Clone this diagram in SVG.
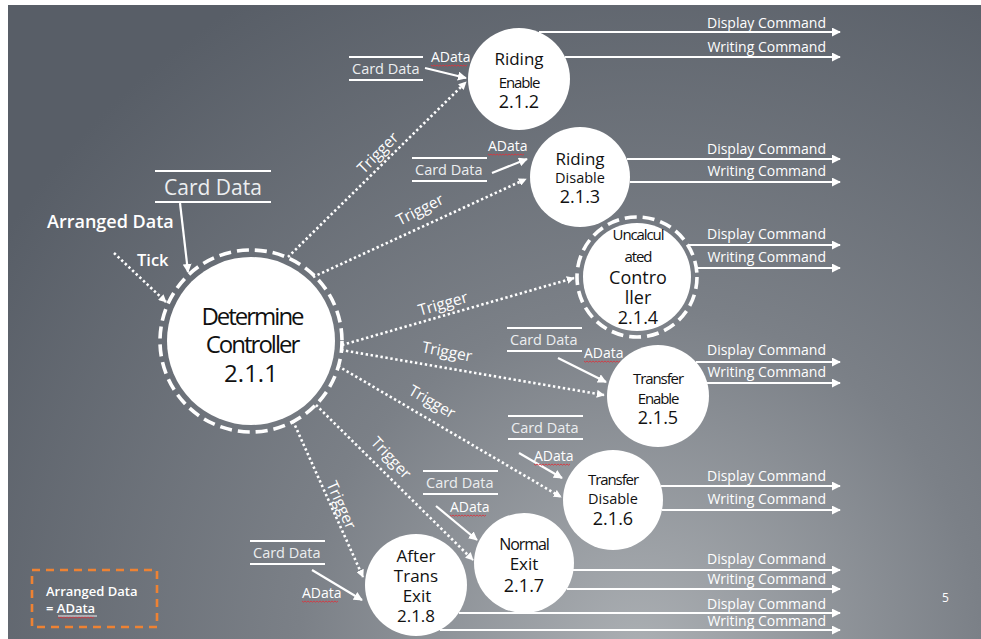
<svg xmlns="http://www.w3.org/2000/svg" xmlns:xlink="http://www.w3.org/1999/xlink" width="981" height="639" viewBox="0 0 981 639">
  <defs>
    <radialGradient id="slideBg" gradientUnits="userSpaceOnUse" cx="640" cy="650" r="760">
      <stop offset="0" stop-color="#abafb3"/>
      <stop offset="0.45" stop-color="#7b8087"/>
      <stop offset="1" stop-color="#585e67"/>
    </radialGradient>
    <marker id="head" viewBox="0 0 10 10" refX="9" refY="5" markerWidth="9" markerHeight="9" markerUnits="userSpaceOnUse" orient="auto">
      <path d="M0,0 L10,5 L0,10 z" fill="#ffffff"/>
    </marker>
    <marker id="headSmall" viewBox="0 0 10 10" refX="9" refY="5" markerWidth="8" markerHeight="8" markerUnits="userSpaceOnUse" orient="auto">
      <path d="M0,0 L10,5 L0,10 z" fill="#ffffff"/>
    </marker>
    <path id="squiggle" d="M0,0 l1.5,1.2 l1.5,-1.2 l1.5,1.2 l1.5,-1.2 l1.5,1.2 l1.5,-1.2 l1.5,1.2 l1.5,-1.2 l1.5,1.2 l1.5,-1.2 l1.5,1.2 l1.5,-1.2 l1.5,1.2 l1.5,-1.2 l1.5,1.2 l1.5,-1.2 l1.5,1.2 l1.5,-1.2 l1.5,1.2 l1.5,-1.2 l1.5,1.2 l1.5,-1.2 l1.5,1.2 l1.5,-1.2" fill="none" stroke="#d9363e" stroke-width="0.9"/>
    <style>
      text { font-family: "Open Sans", "Noto Sans", "DejaVu Sans", sans-serif; }
      .lbl { fill: #ffffff; font-size: 14px; }
      .store { fill: #eceef0; font-size: 14.5px; }
      .trig { fill: #ffffff; font-size: 15.5px; text-anchor: middle; }
      .node { fill: #111111; text-anchor: middle; }
      .cnd { letter-spacing: -1.1px; }
      .cmd { fill: #ffffff; font-size: 14px; text-anchor: end; }
      .flow { stroke: #ffffff; stroke-width: 2.2; fill: none; marker-end: url(#head); }
      .dot { stroke: #ffffff; stroke-width: 2.6; stroke-dasharray: 2.4 2.6; fill: none; marker-end: url(#headSmall); }
      .sline { stroke: #ffffff; stroke-width: 2.2; }
      .disc { fill: #ffffff; }
      .ring { fill: none; stroke: #ffffff; stroke-width: 3.6; stroke-dasharray: 12 6; }
    </style>
  </defs>

  <!-- slide background -->
  <rect x="0" y="0" width="981" height="639" fill="#ffffff"/>
  <rect x="8" y="5" width="973" height="634" fill="url(#slideBg)"/>

  <!-- connectors -->
  <g id="connectors">
    <!-- inputs of 2.1.1 -->
    <line class="flow" x1="180" y1="203" x2="188" y2="272"/>
    <line class="dot" x1="114" y1="253" x2="166" y2="302"/>

    <!-- triggers from 2.1.1 -->
    <line class="dot" x1="288" y1="257" x2="466" y2="82"/>
    <line class="dot" x1="313" y1="277" x2="526" y2="179"/>
    <line class="dot" x1="342" y1="345" x2="574" y2="278"/>
    <line class="dot" x1="341" y1="350" x2="604" y2="395"/>
    <line class="dot" x1="338" y1="366" x2="561" y2="497"/>
    <line class="dot" x1="316" y1="405" x2="473" y2="560"/>
    <line class="dot" x1="293" y1="421" x2="363" y2="577"/>

    <!-- AData inputs -->
    <line class="flow" x1="425" y1="68" x2="466" y2="78"/>
    <line class="flow" x1="492" y1="173" x2="527" y2="159"/>
    <line class="flow" x1="558" y1="358" x2="606" y2="382"/>
    <line class="flow" x1="519" y1="453" x2="562" y2="478"/>
    <line class="flow" x1="436" y1="506" x2="477" y2="540"/>
    <line class="flow" x1="312" y1="570" x2="362" y2="600"/>

    <!-- command outputs -->
    <line class="flow" x1="539" y1="32" x2="840" y2="32"/>
    <line class="flow" x1="565" y1="57" x2="840" y2="57"/>
    <line class="flow" x1="627" y1="159" x2="840" y2="159"/>
    <line class="flow" x1="630" y1="182" x2="840" y2="182"/>
    <line class="flow" x1="688" y1="245" x2="840" y2="245"/>
    <line class="flow" x1="696" y1="268" x2="840" y2="268"/>
    <line class="flow" x1="696" y1="362" x2="840" y2="362"/>
    <line class="flow" x1="707" y1="383" x2="840" y2="383"/>
    <line class="flow" x1="661" y1="486" x2="840" y2="486"/>
    <line class="flow" x1="662" y1="510" x2="840" y2="510"/>
    <line class="flow" x1="573" y1="570" x2="840" y2="570"/>
    <line class="flow" x1="567" y1="589" x2="840" y2="589"/>
    <line class="flow" x1="459" y1="613" x2="840" y2="613"/>
    <line class="flow" x1="440" y1="630" x2="840" y2="630"/>
  </g>

  <!-- connector labels -->
  <g id="labels">
    <text class="lbl" x="47" y="228" style="font-size:18px;font-weight:600">Arranged Data</text>
    <text class="lbl" x="137" y="266" style="font-size:16.5px;font-weight:600">Tick</text>

    <text class="trig" transform="translate(378,153) rotate(-45)" y="5">Trigger</text>
    <text class="trig" transform="translate(420,210) rotate(-27)" y="5">Trigger</text>
    <text class="trig" transform="translate(443,304) rotate(-16)" y="5">Trigger</text>
    <text class="trig" transform="translate(447,352) rotate(11)" y="5">Trigger</text>
    <text class="trig" transform="translate(432,402) rotate(30)" y="5">Trigger</text>
    <text class="trig" transform="translate(391,458) rotate(47)" y="5">Trigger</text>
    <text class="trig" transform="translate(341,505) rotate(66)" y="5">Trigger</text>

    <text class="cmd" x="826" y="28">Display Command</text>
    <text class="cmd" x="826" y="52">Writing Command</text>
    <text class="cmd" x="826" y="154">Display Command</text>
    <text class="cmd" x="826" y="176">Writing Command</text>
    <text class="cmd" x="826" y="239">Display Command</text>
    <text class="cmd" x="826" y="262">Writing Command</text>
    <text class="cmd" x="826" y="355">Display Command</text>
    <text class="cmd" x="826" y="377">Writing Command</text>
    <text class="cmd" x="826" y="481">Display Command</text>
    <text class="cmd" x="826" y="504">Writing Command</text>
    <text class="cmd" x="826" y="564">Display Command</text>
    <text class="cmd" x="826" y="584">Writing Command</text>
    <text class="cmd" x="826" y="609">Display Command</text>
    <text class="cmd" x="826" y="626">Writing Command</text>

    <text class="lbl" x="431" y="62">AData</text>
    <use xlink:href="#squiggle" x="431" y="65"/>
    <text class="lbl" x="488" y="151">AData</text>
    <use xlink:href="#squiggle" x="488" y="154"/>
    <text class="lbl" x="584" y="358">AData</text>
    <use xlink:href="#squiggle" x="584" y="361"/>
    <text class="lbl" x="534" y="461">AData</text>
    <use xlink:href="#squiggle" x="534" y="464"/>
    <text class="lbl" x="450" y="512">AData</text>
    <use xlink:href="#squiggle" x="450" y="515"/>
    <text class="lbl" x="302" y="598">AData</text>
    <use xlink:href="#squiggle" x="302" y="601"/>
  </g>

  <!-- data stores -->
  <g id="store-card-main">
    <line class="sline" x1="155" y1="171" x2="271" y2="171"/>
    <text class="store" x="164" y="195" style="font-size:21px">Card Data</text>
    <line class="sline" x1="155" y1="202" x2="271" y2="202"/>
  </g>
  <g id="store-card-212">
    <line class="sline" x1="349" y1="57" x2="423" y2="57"/>
    <text class="store" x="352" y="74">Card Data</text>
    <line class="sline" x1="349" y1="80" x2="423" y2="80"/>
  </g>
  <g id="store-card-213">
    <line class="sline" x1="412" y1="158" x2="487" y2="158"/>
    <text class="store" x="415" y="175">Card Data</text>
    <line class="sline" x1="412" y1="181" x2="487" y2="181"/>
  </g>
  <g id="store-card-215">
    <line class="sline" x1="507" y1="328" x2="582" y2="328"/>
    <text class="store" x="510" y="345">Card Data</text>
    <line class="sline" x1="507" y1="351" x2="582" y2="351"/>
  </g>
  <g id="store-card-216">
    <line class="sline" x1="508" y1="416" x2="583" y2="416"/>
    <text class="store" x="511" y="433">Card Data</text>
    <line class="sline" x1="508" y1="439" x2="583" y2="439"/>
  </g>
  <g id="store-card-217">
    <line class="sline" x1="423" y1="471" x2="498" y2="471"/>
    <text class="store" x="426" y="488">Card Data</text>
    <line class="sline" x1="423" y1="494" x2="498" y2="494"/>
  </g>
  <g id="store-card-218">
    <line class="sline" x1="250" y1="541" x2="325" y2="541"/>
    <text class="store" x="253" y="558">Card Data</text>
    <line class="sline" x1="250" y1="564" x2="325" y2="564"/>
  </g>

  <!-- processes -->
  <g id="node-211">
    <circle class="disc" cx="251" cy="341" r="84"/>
    <circle class="ring" cx="251" cy="341" r="91"/>
    <text class="node" x="252" y="325" style="font-size:24px;letter-spacing:-2px">Determine</text>
    <text class="node" x="252" y="353" style="font-size:24px;letter-spacing:-2px">Controller</text>
    <text class="node" x="251" y="382" style="font-size:24px">2.1.1</text>
  </g>
  <g id="node-212">
    <circle class="disc" cx="519" cy="79" r="51"/>
    <text class="node" x="519" y="65" style="font-size:17px">Riding</text>
    <text class="node cnd" x="519" y="88" style="font-size:15px">Enable</text>
    <text class="node" x="519" y="108" style="font-size:18px">2.1.2</text>
  </g>
  <g id="node-213">
    <circle class="disc" cx="580" cy="177" r="50"/>
    <text class="node" x="580" y="165" style="font-size:17px">Riding</text>
    <text class="node" x="580" y="183" style="font-size:14.5px">Disable</text>
    <text class="node" x="580" y="203" style="font-size:18px">2.1.3</text>
  </g>
  <g id="node-214">
    <circle class="disc" cx="637" cy="277" r="54"/>
    <circle class="ring" cx="637" cy="277" r="60"/>
    <text class="node cnd" x="638" y="240" style="font-size:15px">Uncalcul</text>
    <text class="node cnd" x="638" y="262" style="font-size:15px">ated</text>
    <text class="node" x="638" y="284" style="font-size:18px">Contro</text>
    <text class="node" x="638" y="304" style="font-size:18px">ller</text>
    <text class="node" x="638" y="324" style="font-size:18px">2.1.4</text>
  </g>
  <g id="node-215">
    <circle class="disc" cx="658" cy="396" r="51"/>
    <text class="node cnd" x="658" y="384" style="font-size:15px">Transfer</text>
    <text class="node cnd" x="658" y="404" style="font-size:15px">Enable</text>
    <text class="node" x="658" y="424" style="font-size:18px">2.1.5</text>
  </g>
  <g id="node-216">
    <circle class="disc" cx="613" cy="500" r="50"/>
    <text class="node cnd" x="613" y="485" style="font-size:15px">Transfer</text>
    <text class="node" x="613" y="504" style="font-size:14.5px">Disable</text>
    <text class="node" x="613" y="525" style="font-size:18px">2.1.6</text>
  </g>
  <g id="node-217">
    <circle class="disc" cx="524" cy="563" r="50"/>
    <text class="node cnd" x="524" y="550" style="font-size:16px">Normal</text>
    <text class="node" x="524" y="570" style="font-size:17px">Exit</text>
    <text class="node" x="524" y="592" style="font-size:18px">2.1.7</text>
  </g>
  <g id="node-218">
    <circle class="disc" cx="416" cy="585" r="51"/>
    <text class="node" x="416" y="562" style="font-size:17px">After</text>
    <text class="node" x="416" y="582" style="font-size:17px">Trans</text>
    <text class="node" x="417" y="602" style="font-size:17px">Exit</text>
    <text class="node" x="416" y="622" style="font-size:17px">2.1.8</text>
  </g>

  <!-- legend -->
  <g id="legend">
    <rect x="32" y="570" width="125" height="57" fill="none" stroke="#ee8233" stroke-width="2.6" stroke-dasharray="8 6"/>
    <text class="lbl" x="46" y="596" style="font-size:13px;font-weight:600">Arranged Data</text>
    <text class="lbl" x="46" y="613" style="font-size:13px;font-weight:600">= AData</text>
    <line x1="58" y1="616" x2="97" y2="616" stroke="#ffffff" stroke-width="0.9"/>
    <use xlink:href="#squiggle" x="58" y="617"/>
  </g>

  <!-- page number -->
  <text x="942" y="602" style="font-size:12px;fill:#ffffff">5</text>
</svg>
